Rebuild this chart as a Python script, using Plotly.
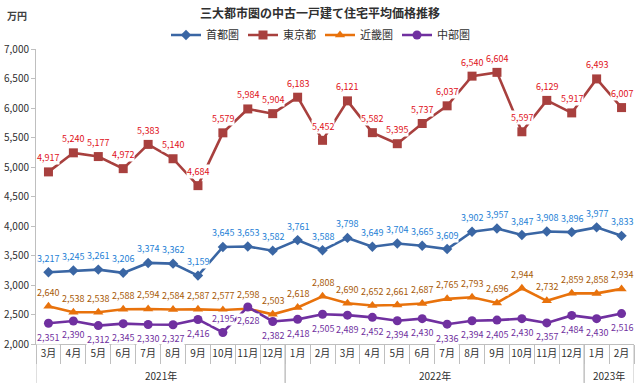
import plotly.graph_objects as go

years = ["2021年"] * 10 + ["2022年"] * 12 + ["2023年"] * 2
months = ["3月", "4月", "5月", "6月", "7月", "8月", "9月", "10月", "11月", "12月",
          "1月", "2月", "3月", "4月", "5月", "6月", "7月", "8月", "9月", "10月", "11月", "12月",
          "1月", "2月"]

shutoken = [3217, 3245, 3261, 3206, 3374, 3362, 3159, 3645, 3653, 3582, 3761, 3588,
            3798, 3649, 3704, 3665, 3609, 3902, 3957, 3847, 3908, 3896, 3977, 3833]
tokyo = [4917, 5240, 5177, 4972, 5383, 5140, 4684, 5579, 5984, 5904, 6183, 5452,
         6121, 5582, 5395, 5737, 6037, 6540, 6604, 5597, 6129, 5917, 6493, 6007]
kinki = [2640, 2538, 2538, 2588, 2594, 2584, 2587, 2577, 2598, 2503, 2618, 2808,
         2690, 2652, 2661, 2687, 2765, 2793, 2696, 2944, 2732, 2859, 2858, 2934]
chubu = [2351, 2390, 2312, 2345, 2330, 2327, 2416, 2195, 2628, 2382, 2418, 2505,
         2489, 2452, 2394, 2430, 2336, 2394, 2405, 2430, 2357, 2484, 2430, 2516]

FONT = "Noto Sans CJK JP"
GRAY = "#BFBFBF"

series = [
    # name, values, line color, label color, symbol, size, label side
    ("首都圏", shutoken, "#3A66A4", "#1E7FD6", "diamond", 8, 1),
    ("東京都", tokyo, "#A8403E", "#E0101A", "square", 9, 1),
    ("近畿圏", kinki, "#E8720C", "#A85A08", "triangle-up", 9, 1),
    ("中部圏", chubu, "#7030A0", "#7030A0", "circle", 9, -1),
]

cats = [y + m for y, m in zip(years, months)]

fig = go.Figure()
annotations = []
for name, vals, lc, tc, sym, sz, side in series:
    fig.add_trace(go.Scatter(
        x=cats, y=vals, name=name, mode="lines+markers",
        line=dict(color=lc, width=2.6),
        marker=dict(symbol=sym, size=sz, color=lc),
    ))
    for i, v in enumerate(vals):
        s = side
        if name == "中部圏" and v < 2250:
            s = 1
        annotations.append(dict(
            x=cats[i], y=v, xref="x", yref="y",
            text=f"{v:,}", showarrow=False, yshift=14 * s,
            font=dict(family=FONT, size=9, color=tc),
            bgcolor="white", borderpad=0,
        ))

# year group labels and dividers
shapes = []
groups = []
for i, yv in enumerate(years):
    if not groups or groups[-1][0] != yv:
        groups.append([yv, i, i])
    else:
        groups[-1][2] = i
for yv, a, b in groups:
    annotations.append(dict(
        x=(a + b) / 2, y=-0.108, xref="x", yref="paper", text=yv, showarrow=False,
        yanchor="middle", font=dict(family=FONT, size=10, color="#303030"),
    ))
    for bx in (a - 0.5, b + 0.5):
        shapes.append(dict(type="line", xref="x", yref="paper", x0=bx, x1=bx,
                           y0=0, y1=-0.132, line=dict(color=GRAY, width=1)))

annotations.append(dict(
    x=-0.052, y=1.115, xref="paper", yref="paper", xanchor="left", yanchor="middle",
    text="<b>万円</b>", showarrow=False,
    font=dict(family=FONT, size=10, color="#404040"),
))

fig.update_layout(
    width=640, height=392,
    margin=dict(l=36, r=6, t=49, b=48, autoexpand=False),
    paper_bgcolor="white", plot_bgcolor="white",
    font=dict(family=FONT, size=10, color="#404040"),
    title=dict(text="<b>三大都市圏の中古一戸建て住宅平均価格推移</b>",
               x=0.5, xanchor="center", y=1 - 14 / 392, yanchor="middle", yref="container",
               pad=dict(t=0, b=0),
               font=dict(family=FONT, size=12, color="#303030")),
    legend=dict(orientation="h", x=0.5, xanchor="center", xref="container",
                y=1 - 35 / 392, yanchor="middle", yref="container",
                font=dict(family=FONT, size=11, color="#303030"),
                itemwidth=30, entrywidth=32, bgcolor="rgba(0,0,0,0)"),
    showlegend=True,
    annotations=annotations,
    shapes=shapes,
)

fig.update_xaxes(
    type="category", showgrid=False, showline=True, linecolor=GRAY, linewidth=1,
    tickvals=cats, ticktext=months, tickangle=0, automargin=False,
    ticks="outside", tickson="boundaries", ticklen=19, tickcolor=GRAY,
    tickfont=dict(family=FONT, size=10, color="#303030"),
    range=[-0.5, len(cats) - 0.5],
)
fig.update_yaxes(
    range=[2000, 7000], dtick=500, tickformat=",", showgrid=False,
    showline=True, linecolor=GRAY, linewidth=1, automargin=False,
    ticks="outside", ticklen=4, tickcolor=GRAY,
    tickfont=dict(family=FONT, size=10, color="#303030"), zeroline=False,
)

fig.write_html(
    "out.html",
    config={"displayModeBar": False},
    post_script="document.body.style.margin='0';document.body.style.overflow='hidden';",
)
